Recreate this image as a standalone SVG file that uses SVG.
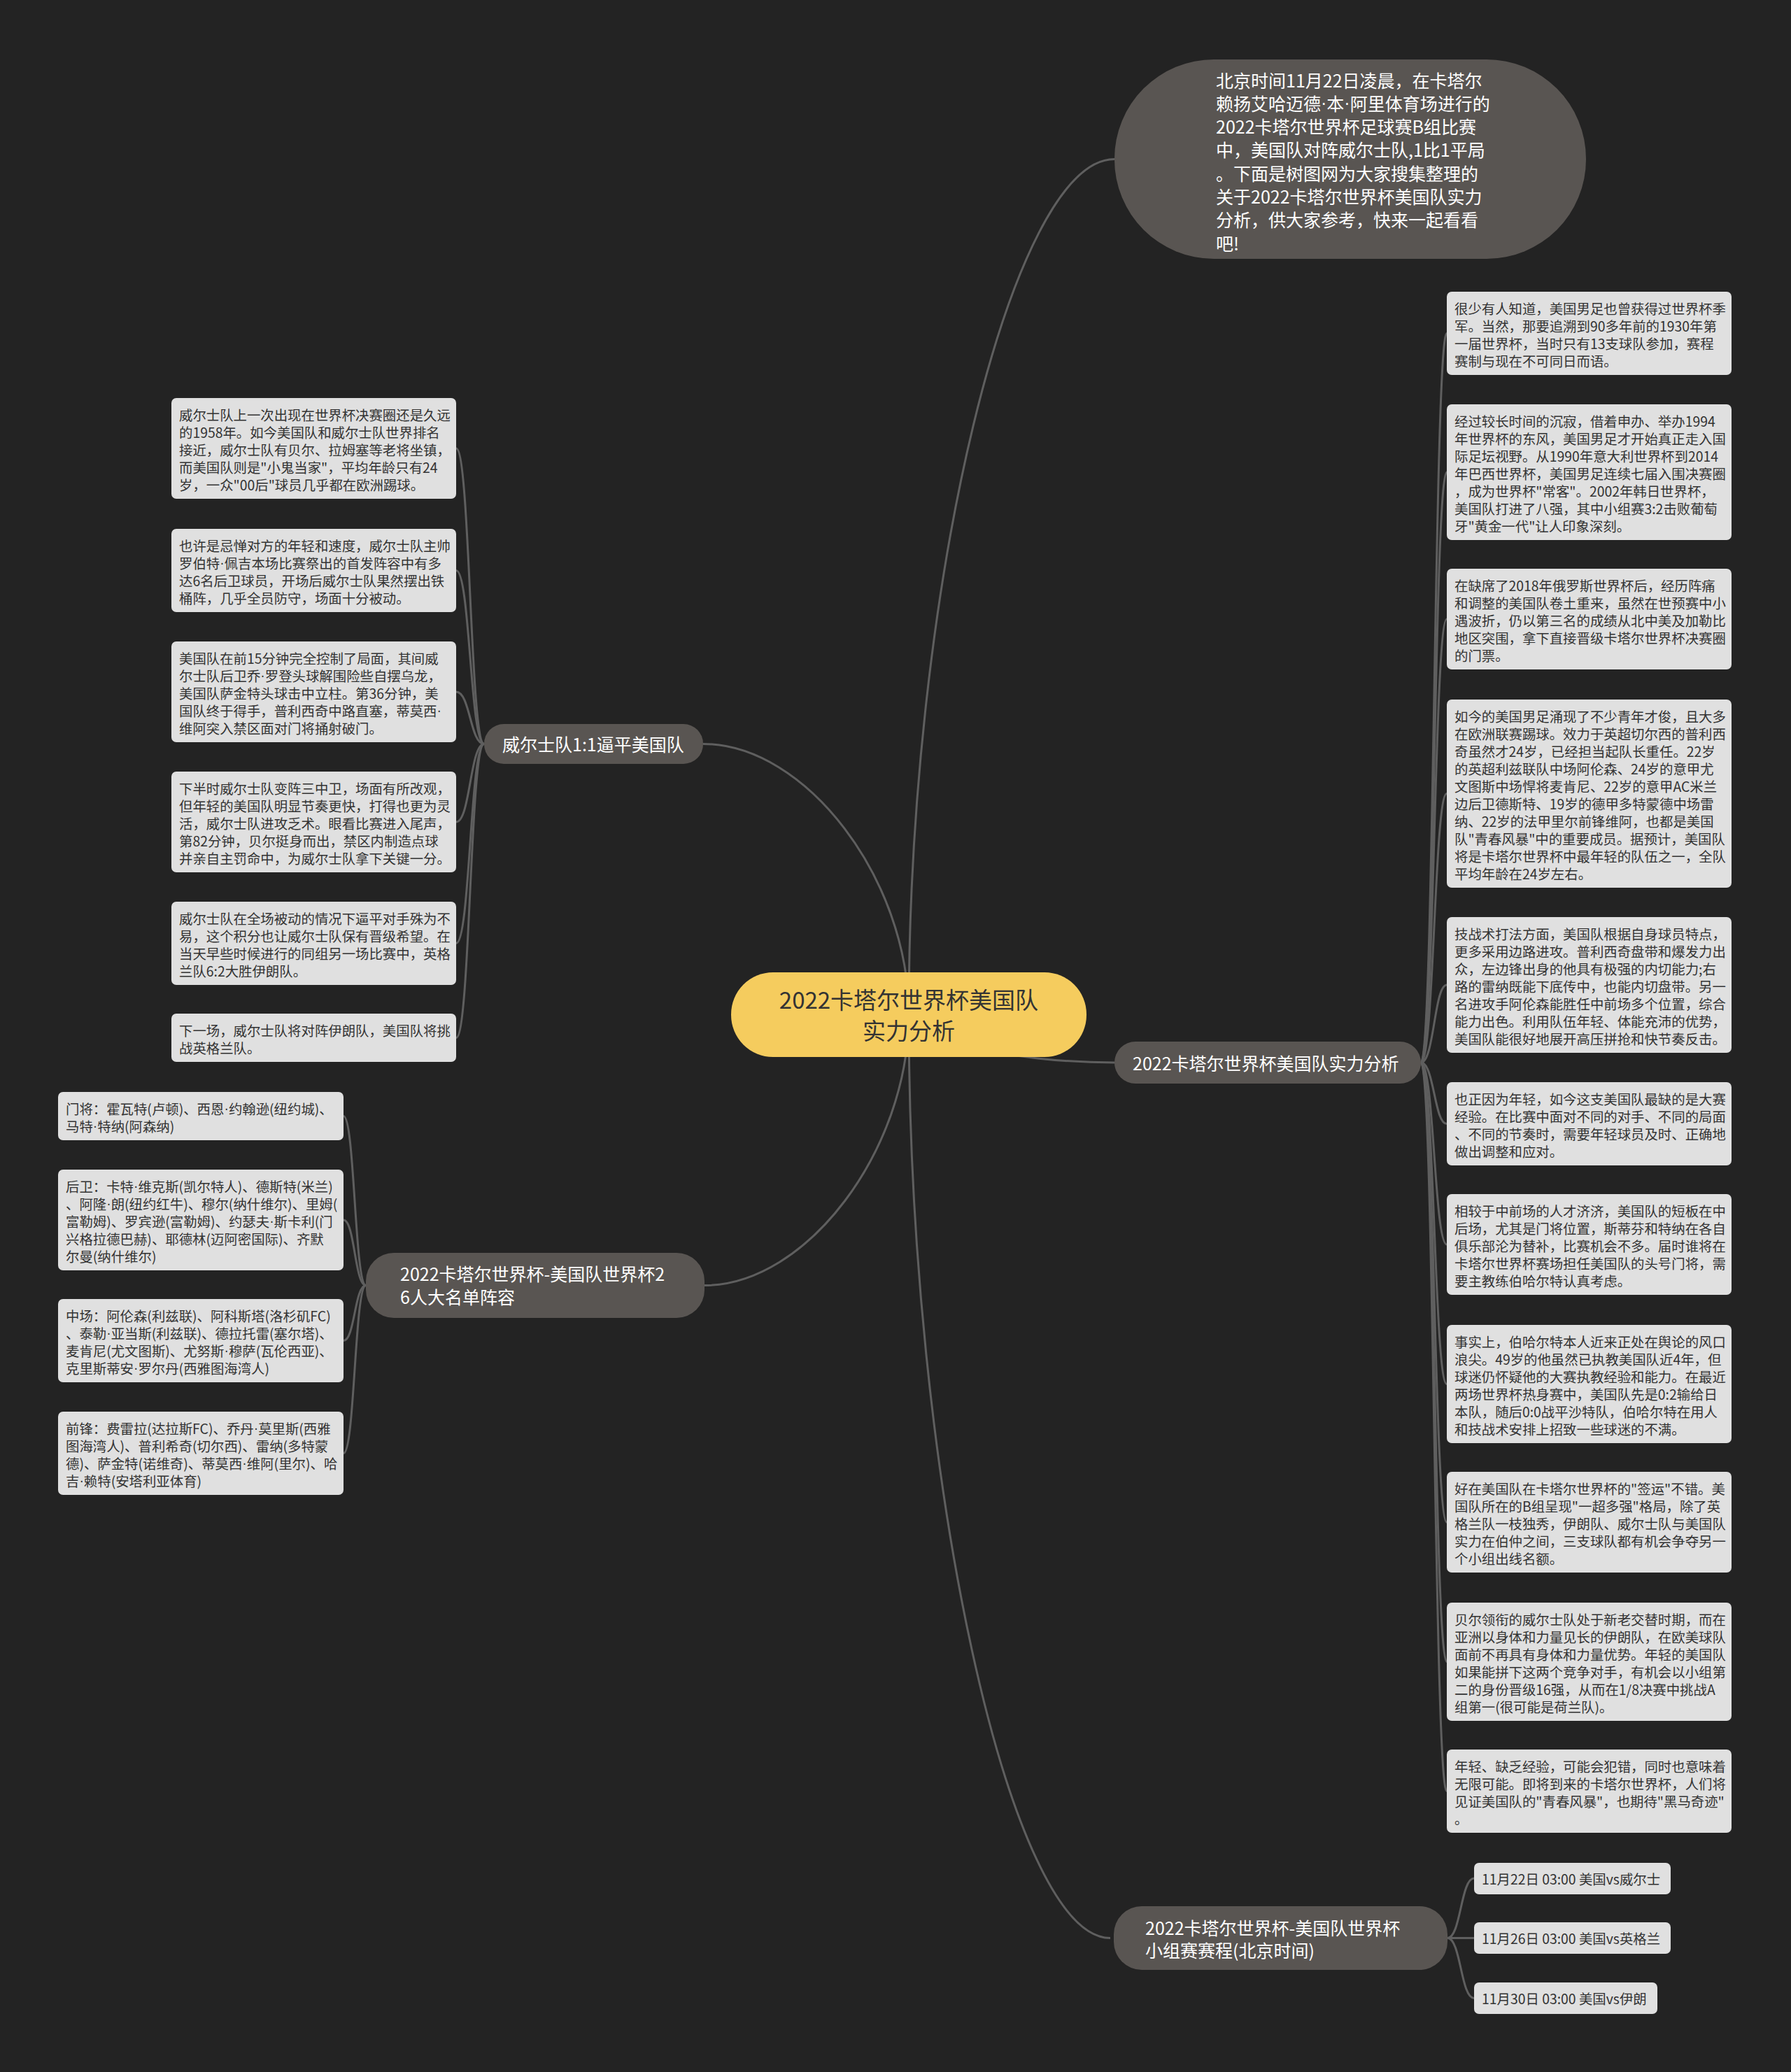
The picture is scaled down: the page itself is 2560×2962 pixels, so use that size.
<svg xmlns="http://www.w3.org/2000/svg" width="2560" height="2962" viewBox="0 0 2560 2962">
<style>
text{font-family:"Noto Sans CJK SC","Noto Sans",sans-serif;dominant-baseline:central}
.d{font-family:"Liberation Sans","DejaVu Sans",sans-serif}
.conn{fill:none;stroke:#5f5f5f;stroke-width:3}
.leaf{fill:#e0e0e0}
.lt{font-size:19.4px;fill:#333}
.br{fill:#595552}
.bt{font-size:25px;fill:#fff}
.ct{font-size:33px;fill:#333;text-anchor:middle}
</style>
<rect width="2560" height="2962" fill="#232323"/>
<g id="connectors">
<path class="conn" d="M1299,1450 C1299,839 1446,227.5 1593,227.5"/>
<path class="conn" d="M1299,1450 C1299,1257 1152,1063.5 1005,1063.5"/>
<path class="conn" d="M1299,1450 C1299,1485 1446,1519 1593,1519"/>
<path class="conn" d="M1299,1450 C1299,1644 1153,1837.5 1007,1837.5"/>
<path class="conn" d="M1299,1450 C1299,2110 1443,2770.5 1587,2770.5"/>
<path class="conn" d="M692,1063.5 C672,1063.5 672,641 652,641"/>
<path class="conn" d="M692,1063.5 C672,1063.5 672,815.5 652,815.5"/>
<path class="conn" d="M692,1063.5 C672,1063.5 672,989 652,989"/>
<path class="conn" d="M692,1063.5 C672,1063.5 672,1175 652,1175"/>
<path class="conn" d="M692,1063.5 C672,1063.5 672,1348.5 652,1348.5"/>
<path class="conn" d="M692,1063.5 C672,1063.5 672,1483.5 652,1483.5"/>
<path class="conn" d="M523,1837.5 C507,1837.5 507,1595.5 491,1595.5"/>
<path class="conn" d="M523,1837.5 C507,1837.5 507,1744 491,1744"/>
<path class="conn" d="M523,1837.5 C507,1837.5 507,1916.5 491,1916.5"/>
<path class="conn" d="M523,1837.5 C507,1837.5 507,2077.5 491,2077.5"/>
<path class="conn" d="M2031,1519 C2050,1519 2050,476.5 2068,476.5"/>
<path class="conn" d="M2031,1519 C2050,1519 2050,675 2068,675"/>
<path class="conn" d="M2031,1519 C2050,1519 2050,885 2068,885"/>
<path class="conn" d="M2031,1519 C2050,1519 2050,1134.5 2068,1134.5"/>
<path class="conn" d="M2031,1519 C2050,1519 2050,1408 2068,1408"/>
<path class="conn" d="M2031,1519 C2050,1519 2050,1606.5 2068,1606.5"/>
<path class="conn" d="M2031,1519 C2050,1519 2050,1779 2068,1779"/>
<path class="conn" d="M2031,1519 C2050,1519 2050,1978.5 2068,1978.5"/>
<path class="conn" d="M2031,1519 C2050,1519 2050,2176 2068,2176"/>
<path class="conn" d="M2031,1519 C2050,1519 2050,2375.5 2068,2375.5"/>
<path class="conn" d="M2031,1519 C2050,1519 2050,2560.5 2068,2560.5"/>
<path class="conn" d="M2069,2770.5 C2088,2770.5 2088,2685 2107,2685"/>
<path class="conn" d="M2069,2770.5 C2088,2770.5 2088,2770.5 2107,2770.5"/>
<path class="conn" d="M2069,2770.5 C2088,2770.5 2088,2856.5 2107,2856.5"/>
</g>
<g id="center">
<rect x="1045" y="1390" width="508" height="121" rx="60" fill="#f5cc5e"/>
<text class="ct" x="1299" y="1428">2022卡塔尔世界杯美国队</text>
<text class="ct" x="1299" y="1472">实力分析</text>
</g>
<g id="intro">
<rect class="br" x="1593" y="85" width="674" height="285" rx="142"/>
<text class="bt" x="1738" y="113.5">北京时间11月22日凌晨，在卡塔尔<tspan x="1738" dy="33.3">赖扬艾哈迈德<tspan class="d">·</tspan>本<tspan class="d">·</tspan>阿里体育场进行的</tspan><tspan x="1738" dy="33.3">2022卡塔尔世界杯足球赛B组比赛</tspan><tspan x="1738" dy="33.3">中，美国队对阵威尔士队,1比1平局</tspan><tspan x="1738" dy="33.3">。下面是树图网为大家搜集整理的</tspan><tspan x="1738" dy="33.3">关于2022卡塔尔世界杯美国队实力</tspan><tspan x="1738" dy="33.3">分析，供大家参考，快来一起看看</tspan><tspan x="1738" dy="33.3">吧!</tspan></text>
</g>
<g id="branch-wales">
<rect class="br" x="692" y="1035" width="313" height="57" rx="28"/>
<text class="bt" x="718" y="1063">威尔士队1:1逼平美国队</text>
</g>
<g id="branch-analysis">
<rect class="br" x="1593" y="1489" width="438" height="60" rx="30"/>
<text class="bt" x="1619" y="1519">2022卡塔尔世界杯美国队实力分析</text>
</g>
<g id="branch-roster">
<rect class="br" x="523" y="1791" width="484" height="93" rx="40"/>
<text class="bt" x="572" y="1820">2022卡塔尔世界杯-美国队世界杯2<tspan x="572" dy="33">6人大名单阵容</tspan></text>
</g>
<g id="branch-schedule">
<rect class="br" x="1592" y="2725" width="477" height="91" rx="40"/>
<text class="bt" x="1637" y="2755">2022卡塔尔世界杯-美国队世界杯<tspan x="1637" dy="32">小组赛赛程(北京时间)</tspan></text>
</g>
<g id="r1"><rect class="leaf" x="2068" y="417" width="407" height="119" rx="7"/>
<text class="lt" x="2079" y="440">很少有人知道，美国男足也曾获得过世界杯季<tspan x="2079" dy="25">军。当然，那要追溯到90多年前的1930年第</tspan><tspan x="2079" dy="25">一届世界杯，当时只有13支球队参加，赛程</tspan><tspan x="2079" dy="25">赛制与现在不可同日而语。</tspan></text></g>
<g id="r2"><rect class="leaf" x="2068" y="578" width="407" height="194" rx="7"/>
<text class="lt" x="2079" y="601">经过较长时间的沉寂，借着申办、举办1994<tspan x="2079" dy="25">年世界杯的东风，美国男足才开始真正走入国</tspan><tspan x="2079" dy="25">际足坛视野。从1990年意大利世界杯到2014</tspan><tspan x="2079" dy="25">年巴西世界杯，美国男足连续七届入围决赛圈</tspan><tspan x="2079" dy="25">，成为世界杯"常客"。2002年韩日世界杯，</tspan><tspan x="2079" dy="25">美国队打进了八强，其中小组赛3:2击败葡萄</tspan><tspan x="2079" dy="25">牙"黄金一代"让人印象深刻。</tspan></text></g>
<g id="r3"><rect class="leaf" x="2068" y="813" width="407" height="144" rx="7"/>
<text class="lt" x="2079" y="836">在缺席了2018年俄罗斯世界杯后，经历阵痛<tspan x="2079" dy="25">和调整的美国队卷土重来，虽然在世预赛中小</tspan><tspan x="2079" dy="25">遇波折，仍以第三名的成绩从北中美及加勒比</tspan><tspan x="2079" dy="25">地区突围，拿下直接晋级卡塔尔世界杯决赛圈</tspan><tspan x="2079" dy="25">的门票。</tspan></text></g>
<g id="r4"><rect class="leaf" x="2068" y="1000" width="407" height="269" rx="7"/>
<text class="lt" x="2079" y="1023">如今的美国男足涌现了不少青年才俊，且大多<tspan x="2079" dy="25">在欧洲联赛踢球。效力于英超切尔西的普利西</tspan><tspan x="2079" dy="25">奇虽然才24岁，已经担当起队长重任。22岁</tspan><tspan x="2079" dy="25">的英超利兹联队中场阿伦森、24岁的意甲尤</tspan><tspan x="2079" dy="25">文图斯中场悍将麦肯尼、22岁的意甲AC米兰</tspan><tspan x="2079" dy="25">边后卫德斯特、19岁的德甲多特蒙德中场雷</tspan><tspan x="2079" dy="25">纳、22岁的法甲里尔前锋维阿，也都是美国</tspan><tspan x="2079" dy="25">队"青春风暴"中的重要成员。据预计，美国队</tspan><tspan x="2079" dy="25">将是卡塔尔世界杯中最年轻的队伍之一，全队</tspan><tspan x="2079" dy="25">平均年龄在24岁左右。</tspan></text></g>
<g id="r5"><rect class="leaf" x="2068" y="1311" width="407" height="194" rx="7"/>
<text class="lt" x="2079" y="1334">技战术打法方面，美国队根据自身球员特点，<tspan x="2079" dy="25">更多采用边路进攻。普利西奇盘带和爆发力出</tspan><tspan x="2079" dy="25">众，左边锋出身的他具有极强的内切能力;右</tspan><tspan x="2079" dy="25">路的雷纳既能下底传中，也能内切盘带。另一</tspan><tspan x="2079" dy="25">名进攻手阿伦森能胜任中前场多个位置，综合</tspan><tspan x="2079" dy="25">能力出色。利用队伍年轻、体能充沛的优势，</tspan><tspan x="2079" dy="25">美国队能很好地展开高压拼抢和快节奏反击。</tspan></text></g>
<g id="r6"><rect class="leaf" x="2068" y="1547" width="407" height="119" rx="7"/>
<text class="lt" x="2079" y="1570">也正因为年轻，如今这支美国队最缺的是大赛<tspan x="2079" dy="25">经验。在比赛中面对不同的对手、不同的局面</tspan><tspan x="2079" dy="25">、不同的节奏时，需要年轻球员及时、正确地</tspan><tspan x="2079" dy="25">做出调整和应对。</tspan></text></g>
<g id="r7"><rect class="leaf" x="2068" y="1707" width="407" height="144" rx="7"/>
<text class="lt" x="2079" y="1730">相较于中前场的人才济济，美国队的短板在中<tspan x="2079" dy="25">后场，尤其是门将位置，斯蒂芬和特纳在各自</tspan><tspan x="2079" dy="25">俱乐部沦为替补，比赛机会不多。届时谁将在</tspan><tspan x="2079" dy="25">卡塔尔世界杯赛场担任美国队的头号门将，需</tspan><tspan x="2079" dy="25">要主教练伯哈尔特认真考虑。</tspan></text></g>
<g id="r8"><rect class="leaf" x="2068" y="1894" width="407" height="169" rx="7"/>
<text class="lt" x="2079" y="1917">事实上，伯哈尔特本人近来正处在舆论的风口<tspan x="2079" dy="25">浪尖。49岁的他虽然已执教美国队近4年，但</tspan><tspan x="2079" dy="25">球迷仍怀疑他的大赛执教经验和能力。在最近</tspan><tspan x="2079" dy="25">两场世界杯热身赛中，美国队先是0:2输给日</tspan><tspan x="2079" dy="25">本队，随后0:0战平沙特队，伯哈尔特在用人</tspan><tspan x="2079" dy="25">和技战术安排上招致一些球迷的不满。</tspan></text></g>
<g id="r9"><rect class="leaf" x="2068" y="2104" width="407" height="144" rx="7"/>
<text class="lt" x="2079" y="2127">好在美国队在卡塔尔世界杯的"签运"不错。美<tspan x="2079" dy="25">国队所在的B组呈现"一超多强"格局，除了英</tspan><tspan x="2079" dy="25">格兰队一枝独秀，伊朗队、威尔士队与美国队</tspan><tspan x="2079" dy="25">实力在伯仲之间，三支球队都有机会争夺另一</tspan><tspan x="2079" dy="25">个小组出线名额。</tspan></text></g>
<g id="r10"><rect class="leaf" x="2068" y="2291" width="407" height="169" rx="7"/>
<text class="lt" x="2079" y="2314">贝尔领衔的威尔士队处于新老交替时期，而在<tspan x="2079" dy="25">亚洲以身体和力量见长的伊朗队，在欧美球队</tspan><tspan x="2079" dy="25">面前不再具有身体和力量优势。年轻的美国队</tspan><tspan x="2079" dy="25">如果能拼下这两个竞争对手，有机会以小组第</tspan><tspan x="2079" dy="25">二的身份晋级16强，从而在1/8决赛中挑战A</tspan><tspan x="2079" dy="25">组第一(很可能是荷兰队)。</tspan></text></g>
<g id="r11"><rect class="leaf" x="2068" y="2501" width="407" height="119" rx="7"/>
<text class="lt" x="2079" y="2524">年轻、缺乏经验，可能会犯错，同时也意味着<tspan x="2079" dy="25">无限可能。即将到来的卡塔尔世界杯，人们将</tspan><tspan x="2079" dy="25">见证美国队的"青春风暴"，也期待"黑马奇迹"</tspan><tspan x="2079" dy="25">。</tspan></text></g>
<g id="l1"><rect class="leaf" x="245" y="569" width="407" height="144" rx="7"/>
<text class="lt" x="256" y="592">威尔士队上一次出现在世界杯决赛圈还是久远<tspan x="256" dy="25">的1958年。如今美国队和威尔士队世界排名</tspan><tspan x="256" dy="25">接近，威尔士队有贝尔、拉姆塞等老将坐镇，</tspan><tspan x="256" dy="25">而美国队则是"小鬼当家"，平均年龄只有24</tspan><tspan x="256" dy="25">岁，一众"00后"球员几乎都在欧洲踢球。</tspan></text></g>
<g id="l2"><rect class="leaf" x="245" y="756" width="407" height="119" rx="7"/>
<text class="lt" x="256" y="779">也许是忌惮对方的年轻和速度，威尔士队主帅<tspan x="256" dy="25">罗伯特<tspan class="d">·</tspan>佩吉本场比赛祭出的首发阵容中有多</tspan><tspan x="256" dy="25">达6名后卫球员，开场后威尔士队果然摆出铁</tspan><tspan x="256" dy="25">桶阵，几乎全员防守，场面十分被动。</tspan></text></g>
<g id="l3"><rect class="leaf" x="245" y="917" width="407" height="144" rx="7"/>
<text class="lt" x="256" y="940">美国队在前15分钟完全控制了局面，其间威<tspan x="256" dy="25">尔士队后卫乔<tspan class="d">·</tspan>罗登头球解围险些自摆乌龙，</tspan><tspan x="256" dy="25">美国队萨金特头球击中立柱。第36分钟，美</tspan><tspan x="256" dy="25">国队终于得手，普利西奇中路直塞，蒂莫西<tspan class="d">·</tspan></tspan><tspan x="256" dy="25">维阿突入禁区面对门将捅射破门。</tspan></text></g>
<g id="l4"><rect class="leaf" x="245" y="1103" width="407" height="144" rx="7"/>
<text class="lt" x="256" y="1126">下半时威尔士队变阵三中卫，场面有所改观，<tspan x="256" dy="25">但年轻的美国队明显节奏更快，打得也更为灵</tspan><tspan x="256" dy="25">活，威尔士队进攻乏术。眼看比赛进入尾声，</tspan><tspan x="256" dy="25">第82分钟，贝尔挺身而出，禁区内制造点球</tspan><tspan x="256" dy="25">并亲自主罚命中，为威尔士队拿下关键一分。</tspan></text></g>
<g id="l5"><rect class="leaf" x="245" y="1289" width="407" height="119" rx="7"/>
<text class="lt" x="256" y="1312">威尔士队在全场被动的情况下逼平对手殊为不<tspan x="256" dy="25">易，这个积分也让威尔士队保有晋级希望。在</tspan><tspan x="256" dy="25">当天早些时候进行的同组另一场比赛中，英格</tspan><tspan x="256" dy="25">兰队6:2大胜伊朗队。</tspan></text></g>
<g id="l6"><rect class="leaf" x="245" y="1449" width="407" height="69" rx="7"/>
<text class="lt" x="256" y="1472">下一场，威尔士队将对阵伊朗队，美国队将挑<tspan x="256" dy="25">战英格兰队。</tspan></text></g>
<g id="ro1"><rect class="leaf" x="83" y="1561" width="408" height="69" rx="7"/>
<text class="lt" x="94" y="1584">门将：霍瓦特(卢顿)、西恩<tspan class="d">·</tspan>约翰逊(纽约城)、<tspan x="94" dy="25">马特<tspan class="d">·</tspan>特纳(阿森纳)</tspan></text></g>
<g id="ro2"><rect class="leaf" x="83" y="1672" width="408" height="144" rx="7"/>
<text class="lt" x="94" y="1695">后卫：卡特<tspan class="d">·</tspan>维克斯(凯尔特人)、德斯特(米兰)<tspan x="94" dy="25">、阿隆<tspan class="d">·</tspan>朗(纽约红牛)、穆尔(纳什维尔)、里姆(</tspan><tspan x="94" dy="25">富勒姆)、罗宾逊(富勒姆)、约瑟夫<tspan class="d">·</tspan>斯卡利(门</tspan><tspan x="94" dy="25">兴格拉德巴赫)、耶德林(迈阿密国际)、齐默</tspan><tspan x="94" dy="25">尔曼(纳什维尔)</tspan></text></g>
<g id="ro3"><rect class="leaf" x="83" y="1857" width="408" height="119" rx="7"/>
<text class="lt" x="94" y="1880">中场：阿伦森(利兹联)、阿科斯塔(洛杉矶FC)<tspan x="94" dy="25">、泰勒<tspan class="d">·</tspan>亚当斯(利兹联)、德拉托雷(塞尔塔)、</tspan><tspan x="94" dy="25">麦肯尼(尤文图斯)、尤努斯<tspan class="d">·</tspan>穆萨(瓦伦西亚)、</tspan><tspan x="94" dy="25">克里斯蒂安<tspan class="d">·</tspan>罗尔丹(西雅图海湾人)</tspan></text></g>
<g id="ro4"><rect class="leaf" x="83" y="2018" width="408" height="119" rx="7"/>
<text class="lt" x="94" y="2041">前锋：费雷拉(达拉斯FC)、乔丹<tspan class="d">·</tspan>莫里斯(西雅<tspan x="94" dy="25">图海湾人)、普利希奇(切尔西)、雷纳(多特蒙</tspan><tspan x="94" dy="25">德)、萨金特(诺维奇)、蒂莫西<tspan class="d">·</tspan>维阿(里尔)、哈</tspan><tspan x="94" dy="25">吉<tspan class="d">·</tspan>赖特(安塔利亚体育)</tspan></text></g>
<g id="s1"><rect class="leaf" x="2107" y="2663" width="281" height="45" rx="7"/>
<text class="lt" x="2118" y="2685">11月22日 03:00 美国vs威尔士</text></g>
<g id="s2"><rect class="leaf" x="2107" y="2748" width="281" height="45" rx="7"/>
<text class="lt" x="2118" y="2770.5">11月26日 03:00 美国vs英格兰</text></g>
<g id="s3"><rect class="leaf" x="2107" y="2834" width="262" height="45" rx="7"/>
<text class="lt" x="2118" y="2856.5">11月30日 03:00 美国vs伊朗</text></g>
</svg>
